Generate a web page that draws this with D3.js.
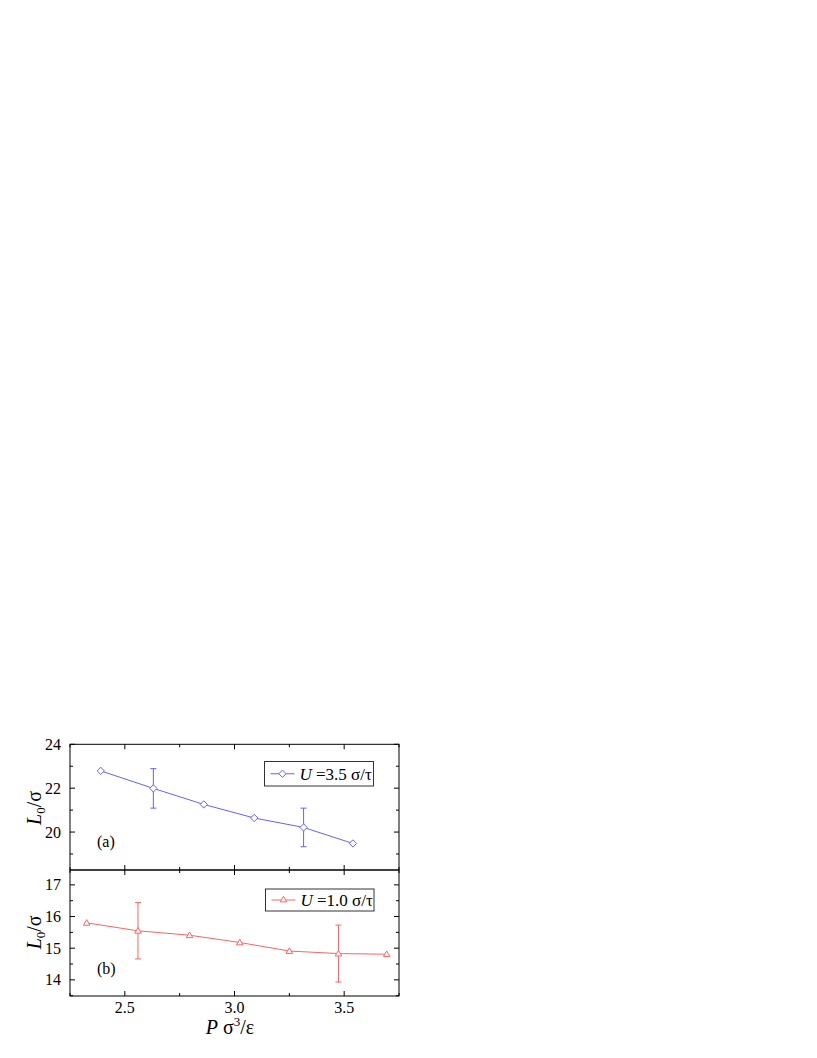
<!DOCTYPE html>
<html><head><meta charset="utf-8">
<script src="https://cdn.jsdelivr.net/npm/d3@7"></script>
<style>body{margin:0;background:#fff}svg{display:block}</style>
</head><body>
<script>
// Data
const topX = [2.39, 2.63, 2.86, 3.09, 3.315, 3.54];
const topY = [22.79, 21.99, 21.26, 20.64, 20.21, 19.48];
const topErr = [0, 0.9, 0, 0, 0.88, 0];
const botX = [2.326, 2.56, 2.795, 3.024, 3.25, 3.474, 3.694];
const botY = [15.80, 15.55, 15.41, 15.18, 14.91, 14.83, 14.81];
const botErr = [0, 0.89, 0, 0, 0, 0.9, 0];
const xTicks = [2.5, 3.0, 3.5];
const xMinor = [2.25, 2.75, 3.25, 3.75];
const topTicks = [20, 22, 24];
const topMinor = [19, 21, 23];
const botTicks = [14, 15, 16, 17];
const botMinor = [13.5, 14.5, 15.5, 16.5];

const W = 817, H = 1058;
const FONT = "'Liberation Serif', 'Times New Roman', Times, 'DejaVu Serif', serif";
const svg = d3.select("body").append("svg").attr("width", W).attr("height", H)
  .attr("font-family", FONT).style("font-family", FONT);
const L = 70, R = 399, T = 744.3, M = 870, B = 996;
const blue = "#6262ff", red = "#ff6262";

const x = d3.scaleLinear().domain([2.25, 3.75]).range([L, R]);
const yTop = d3.scaleLinear().domain([18.27, 24]).range([M, T]);
const yBot = d3.scaleLinear().domain([13.49, 17.47]).range([B, M]);

function panel(y, y0, y1, majY, minY, showXLabels) {
  const g = svg.append("g");
  const maj = 5, min = 3;
  xTicks.forEach(v => {
    g.append("line").attr("x1", x(v)).attr("x2", x(v)).attr("y1", y0).attr("y2", y0 - maj).attr("stroke", "#000");
    g.append("line").attr("x1", x(v)).attr("x2", x(v)).attr("y1", y1).attr("y2", y1 + maj).attr("stroke", "#000");
  });
  xMinor.forEach(v => {
    g.append("line").attr("x1", x(v)).attr("x2", x(v)).attr("y1", y0).attr("y2", y0 - min).attr("stroke", "#000");
    g.append("line").attr("x1", x(v)).attr("x2", x(v)).attr("y1", y1).attr("y2", y1 + min).attr("stroke", "#000");
  });
  majY.forEach(v => {
    g.append("line").attr("x1", L).attr("x2", L + maj).attr("y1", y(v)).attr("y2", y(v)).attr("stroke", "#000");
    g.append("line").attr("x1", R).attr("x2", R - maj).attr("y1", y(v)).attr("y2", y(v)).attr("stroke", "#000");
    g.append("text").attr("x", 61).attr("y", y(v) + 5.5).attr("text-anchor", "end").attr("font-size", 16).text(v);
  });
  minY.forEach(v => {
    g.append("line").attr("x1", L).attr("x2", L + min).attr("y1", y(v)).attr("y2", y(v)).attr("stroke", "#000");
    g.append("line").attr("x1", R).attr("x2", R - min).attr("y1", y(v)).attr("y2", y(v)).attr("stroke", "#000");
  });
  if (showXLabels) {
    xTicks.forEach(v => {
      g.append("text").attr("x", x(v)).attr("y", y0 + 17).attr("text-anchor", "middle").attr("font-size", 16).text(d3.format(".1f")(v));
    });
  }
  return g;
}

const DSIZE = 34, TSIZE = 30;
function series(y, xs, ys, es, color, shape) {
  const g = svg.append("g");
  const line = d3.line().x((d, i) => x(xs[i])).y(d => y(d));
  g.append("path").attr("d", line(ys)).attr("fill", "none").attr("stroke", color).attr("stroke-width", 1);
  ys.forEach((v, i) => {
    if (es[i] > 0) {
      const cx = x(xs[i]);
      g.append("line").attr("x1", cx).attr("x2", cx).attr("y1", y(v + es[i])).attr("y2", y(v - es[i])).attr("stroke", color);
      [v + es[i], v - es[i]].forEach(e => g.append("line").attr("x1", cx - 3).attr("x2", cx + 3).attr("y1", y(e)).attr("y2", y(e)).attr("stroke", color));
    }
  });
  const sym = d3.symbol().type(shape).size(shape === d3.symbolDiamond2 ? DSIZE : TSIZE);
  ys.forEach((v, i) => {
    g.append("path").attr("d", sym()).attr("transform", `translate(${x(xs[i])},${y(v) + (shape === d3.symbolTriangle2 ? 0.5 : 0)})`)
      .attr("fill", "#fff").attr("stroke", color).attr("stroke-width", 1);
  });
}

function legend(x0, y0, w, h, color, shape, val) {
  const g = svg.append("g");
  g.append("rect").attr("x", x0).attr("y", y0).attr("width", w).attr("height", h).attr("fill", "#fff").attr("stroke", "#333").attr("stroke-width", 1);
  const cy = y0 + h / 2;
  g.append("line").attr("x1", x0 + 6).attr("x2", x0 + 30).attr("y1", cy).attr("y2", cy).attr("stroke", color);
  g.append("path").attr("d", d3.symbol().type(shape).size(shape === d3.symbolDiamond2 ? DSIZE : TSIZE)()).attr("transform", `translate(${x0 + 18},${cy})`)
    .attr("fill", "#fff").attr("stroke", color);
  const t = g.append("text").attr("x", x0 + 35).attr("y", cy + 6).attr("font-size", 17);
  t.append("tspan").attr("font-style", "italic").text("U");
  t.append("tspan").text(" =" + val + " σ/τ");
}

panel(yTop, M, T, topTicks, topMinor, false);
panel(yBot, B, M, botTicks, botMinor, true);

series(yTop, topX, topY, topErr, blue, d3.symbolDiamond2);
series(yBot, botX, botY, botErr, red, d3.symbolTriangle2);

svg.append("rect").attr("x", L).attr("y", T).attr("width", R - L).attr("height", B - T).attr("fill", "none").attr("stroke", "#000").attr("stroke-width", 1);
svg.append("line").attr("x1", L).attr("x2", R).attr("y1", M).attr("y2", M).attr("stroke", "#000").attr("stroke-width", 1.3);

legend(264.5, 761.5, 109, 24.5, blue, d3.symbolDiamond2, "3.5");
legend(265.5, 889, 108.5, 22, red, d3.symbolTriangle2, "1.0");

svg.append("text").attr("x", 97).attr("y", 847).attr("font-size", 16).text("(a)");
svg.append("text").attr("x", 97).attr("y", 974).attr("font-size", 16).text("(b)");

function ytitle(cy) {
  const t = svg.append("text").attr("transform", `translate(41,${cy}) rotate(-90)`).attr("text-anchor", "middle").attr("font-size", 20);
  t.append("tspan").attr("font-style", "italic").text("L");
  t.append("tspan").attr("font-size", 13).attr("dy", 4).text("0");
  t.append("tspan").attr("dy", -4).text("/σ");
}
ytitle(yTop(21.1));
ytitle(yBot(15.5));

const xt = svg.append("text").attr("x", 230).attr("y", 1034).attr("text-anchor", "middle").attr("font-size", 20);
xt.append("tspan").attr("font-style", "italic").text("P");
xt.append("tspan").text(" σ");
xt.append("tspan").attr("font-size", 13).attr("dy", -8).text("3");
xt.append("tspan").attr("dy", 8).text("/ε");
</script>
</body></html>
